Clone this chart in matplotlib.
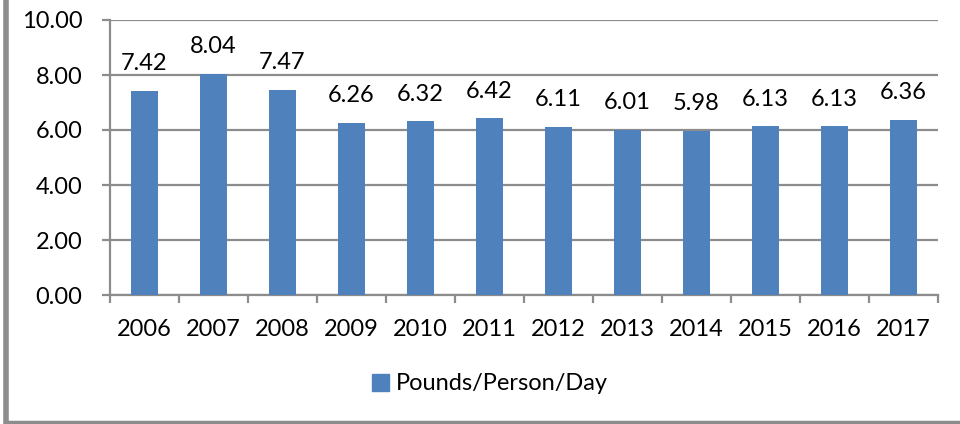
import matplotlib
matplotlib.use("Agg")
import matplotlib.pyplot as plt
from matplotlib.lines import Line2D
from matplotlib.patches import Patch

years = ["2006", "2007", "2008", "2009", "2010", "2011", "2012", "2013", "2014", "2015", "2016", "2017"]
values = [7.42, 8.04, 7.47, 6.26, 6.32, 6.42, 6.11, 6.01, 5.98, 6.13, 6.13, 6.36]
yticks = [0, 2, 4, 6, 8, 10]
series_name = "Pounds/Person/Day"

BAR = "#4F81BD"
GRID = "#8C8C8C"
FONT = ["Lato", "DejaVu Sans"]
FS = 17

plt.rcParams['font.family'] = FONT

fig = plt.figure(figsize=(9.6, 4.24), dpi=100)
W, H = 960, 424
ax = fig.add_axes([110 / W, 1 - 295 / H, (938 - 110) / W, (295 - 20) / H])

x = list(range(len(years)))
ax.bar(x, values, width=0.4, color=BAR, zorder=3)
ax.set_xlim(-0.5, len(years) - 0.5)
ax.set_ylim(0, 10)

for xi, v in zip(x, values):
    ax.annotate(f"{v:.2f}", (xi, v), xytext=(0, 12), textcoords="offset points",
                ha="center", va="bottom", fontsize=FS, color="black")

ax.set_yticks(yticks)
ax.set_yticklabels([f"{t:.2f}" for t in yticks], fontsize=FS)
ax.yaxis.grid(True, color=GRID, linewidth=1.6, zorder=0)
ax.set_axisbelow(True)

ax.set_xticks([i - 0.5 for i in range(len(years) + 1)])
ax.set_xticklabels([])
ax.set_xticks(x, minor=True)
ax.set_xticklabels(years, minor=True, fontsize=FS)
ax.tick_params(axis="x", which="minor", length=0, pad=17)
ax.tick_params(axis="x", which="major", length=6, width=1.6, color=GRID, direction="out")
ax.tick_params(axis="y", length=6, width=1.6, color=GRID, direction="out", pad=14)

for s in ["top", "right"]:
    ax.spines[s].set_visible(False)
for s in ["left", "bottom"]:
    ax.spines[s].set_color(GRID)
    ax.spines[s].set_linewidth(1.6)

handle = Patch(facecolor=BAR, edgecolor=BAR)
fig.legend([handle], [series_name], loc="center", bbox_to_anchor=(490 / W, 1 - 384 / H),
           frameon=False, fontsize=FS, handlelength=0.7, handleheight=0.7, handletextpad=0.3)

# figure border (left and bottom)
fig.add_artist(Line2D([6 / W, 6 / W], [2 / H, 1], transform=fig.transFigure, color="#8C8C8C", linewidth=4))
fig.add_artist(Line2D([6 / W, 1], [2 / H, 2 / H], transform=fig.transFigure, color="#8C8C8C", linewidth=2.5))

fig.savefig("out.png", dpi=100)
